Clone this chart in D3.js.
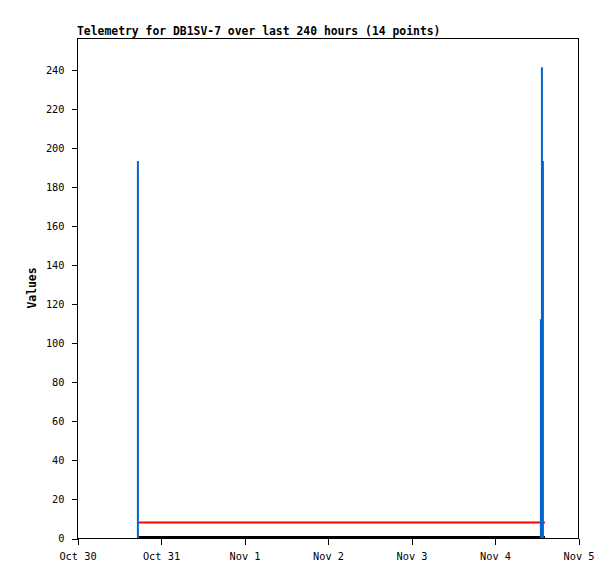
<!DOCTYPE html>
<html>
<head>
<meta charset="utf-8">
<script src="https://cdn.jsdelivr.net/npm/d3@7"></script>
<style>
  body { margin: 0; background: #fff; }
  svg text { font-family: "DejaVu Sans Mono", "Liberation Mono", monospace; }
</style>
</head>
<body>
<svg id="chart" width="615" height="579"></svg>
<script>
// telemetry channels
var blueTimes = ['2023-10-30T17:30', '2023-11-04T13:20', '2023-11-04T13:38', '2023-11-04T13:55'];
var blueValues = [193, 112, 241, 193];
var redTimes = ['2023-10-30T17:35', '2023-11-04T14:30'];
var redValues = [8, 8];
var blackTimes = ['2023-10-30T17:30', '2023-11-04T14:30'];
var blackValues = [0, 0];
var xTickLabels = ['Oct 30', 'Oct 31', 'Nov 1', 'Nov 2', 'Nov 3', 'Nov 4', 'Nov 5'];
var yTicks = [0, 20, 40, 60, 80, 100, 120, 140, 160, 180, 200, 220, 240];

var margin = { top: 38, right: 37, bottom: 41, left: 77 };
var svg = d3.select('#chart');
var width = 615 - margin.left - margin.right;
var height = 579 - margin.top - margin.bottom;

var parse = d3.timeParse('%Y-%m-%dT%H:%M');

var x = d3.scaleTime()
  .domain([new Date(2023, 9, 30), new Date(2023, 10, 5)])
  .range([0, width]);
var y = d3.scaleLinear()
  .domain([0, 256])
  .range([height, 0]);

var g = svg.append('g')
  .attr('transform', 'translate(' + margin.left + ',' + margin.top + ')');

// frame
g.append('rect')
  .attr('x', 0.5).attr('y', 0.5)
  .attr('width', width).attr('height', height)
  .attr('fill', 'none').attr('stroke', '#000')
  .attr('shape-rendering', 'crispEdges');

// x axis
var xTicks = d3.range(7).map(function(i) { return new Date(2023, 9, 30 + i); });
var xAxis = g.append('g')
  .attr('transform', 'translate(0.5,' + (height + 0.5) + ')')
  .call(d3.axisBottom(x).tickValues(xTicks).tickSize(6).tickSizeOuter(0)
    .tickFormat(function(d, i) { return xTickLabels[i]; }));
xAxis.select('.domain').remove();
xAxis.selectAll('line').attr('shape-rendering', 'crispEdges');
xAxis.selectAll('text')
  .attr('dy', null).attr('y', 21)
  .attr('font-size', '10.3px').attr('fill', '#000')
  .style('font-family', '"DejaVu Sans Mono", monospace');

// y axis
var yAxis = g.append('g')
  .attr('transform', 'translate(0.5,0.5)')
  .call(d3.axisLeft(y).tickValues(yTicks).tickSize(6).tickSizeOuter(0).tickPadding(7));
yAxis.select('.domain').remove();
yAxis.selectAll('line').attr('shape-rendering', 'crispEdges');
yAxis.selectAll('text')
  .attr('font-size', '10.3px').attr('fill', '#000')
  .style('font-family', '"DejaVu Sans Mono", monospace');

// black channel (zero line)
var blackData = blackTimes.map(function(t, i) { return { t: parse(t), v: blackValues[i] }; });
g.append('path')
  .datum(blackData)
  .attr('fill', 'none').attr('stroke', '#000').attr('stroke-width', 2)
  .attr('d', d3.line().x(function(d) { return x(d.t); }).y(function(d) { return y(d.v) - 1; }));

// red channel
var redData = redTimes.map(function(t, i) { return { t: parse(t), v: redValues[i] }; });
g.append('path')
  .datum(redData)
  .attr('fill', 'none').attr('stroke', '#ff0000').attr('stroke-width', 2)
  .attr('d', d3.line().x(function(d) { return x(d.t); }).y(function(d) { return y(d.v); }));

// blue impulses
var blueData = blueTimes.map(function(t, i) { return { t: parse(t), v: blueValues[i] }; });
g.selectAll('.imp')
  .data(blueData)
  .enter().append('line')
  .attr('class', 'imp')
  .attr('x1', function(d) { return x(d.t); })
  .attr('x2', function(d) { return x(d.t); })
  .attr('y1', y(0))
  .attr('y2', function(d) { return y(d.v); })
  .attr('stroke', '#0066cc').attr('stroke-width', 2);

// title
svg.append('text')
  .attr('x', margin.left).attr('y', 35)
  .attr('font-size', '11.4px').attr('font-weight', 'bold')
  .text('Telemetry for DB1SV-7 over last 240 hours (14 points)');

// y label
svg.append('text')
  .attr('transform', 'translate(36,' + (margin.top + height / 2) + ') rotate(-90)')
  .attr('text-anchor', 'middle')
  .attr('font-size', '11.4px').attr('font-weight', 'bold')
  .text('Values');
</script>
</body>
</html>
